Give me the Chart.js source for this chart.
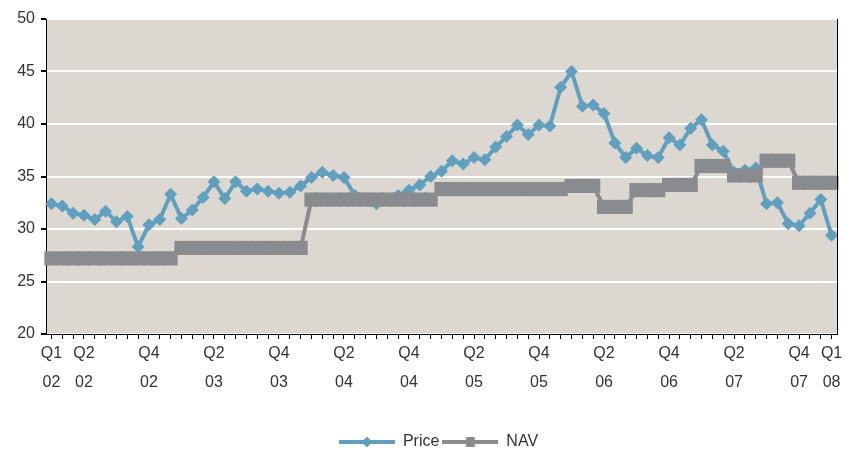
<!DOCTYPE html>
<html>
<head>
<meta charset="utf-8">
<script src="https://cdn.jsdelivr.net/npm/chart.js@4.4.1/dist/chart.umd.min.js"></script>
<style>
  body { margin: 0; background: #fff; }
</style>
</head>
<body>
<canvas id="chart" width="849" height="452"></canvas>
<script>
// monthly points, Jan 02 .. Jan 08
const tickText = ['Q1 02', 'Q2 02', 'Q4 02', 'Q2 03', 'Q4 03', 'Q2 04', 'Q4 04',
                  'Q2 05', 'Q4 05', 'Q2 06', 'Q4 06', 'Q2 07', 'Q4 07', 'Q1 08'];
const tickAt = [0, 3, 9, 15, 21, 27, 33, 39, 45, 51, 57, 63, 69, 72];

const price = [
  32.4, 32.2, 31.5, 31.3, 30.9, 31.7, 30.7, 31.2, 28.3, 30.4, 30.9, 33.3,
  31.0, 31.8, 33.0, 34.5, 32.9, 34.5, 33.6, 33.8, 33.6, 33.4, 33.5, 34.1,
  34.9, 35.4, 35.1, 34.9, 33.2, 32.9, 32.4, 32.8, 33.2, 33.7, 34.2, 35.0,
  35.5, 36.5, 36.2, 36.8, 36.6, 37.8, 38.8, 39.9, 39.0, 39.9, 39.8, 43.5,
  45.0, 41.7, 41.8, 41.0, 38.2, 36.8, 37.7, 37.0, 36.8, 38.7, 38.0, 39.6,
  40.4, 38.0, 37.4, 35.4, 35.6, 35.8, 32.4, 32.5, 30.5, 30.3, 31.5, 32.8,
  29.4
];

const nav = [
  27.2, 27.2, 27.2, 27.2, 27.2, 27.2, 27.2, 27.2, 27.2, 27.2, 27.2, 27.2,
  28.2, 28.2, 28.2, 28.2, 28.2, 28.2, 28.2, 28.2, 28.2, 28.2, 28.2, 28.2,
  32.8, 32.8, 32.8, 32.8, 32.8, 32.8, 32.8, 32.8, 32.8, 32.8, 32.8, 32.8,
  33.8, 33.8, 33.8, 33.8, 33.8, 33.8, 33.8, 33.8, 33.8, 33.8, 33.8, 33.8,
  34.1, 34.1, 34.1, 32.1, 32.1, 32.1, 33.7, 33.7, 33.7, 34.2, 34.2, 34.2,
  36.0, 36.0, 36.0, 35.1, 35.1, 35.1, 36.5, 36.5, 36.5, 34.4, 34.4, 34.4,
  34.4
];

const blue = '#60a0be';
const grey = '#8a8b8f';

let labels = price.map(() => '');
tickAt.forEach((idx, k) => { labels[idx] = tickText[k].split(' '); });

// legend icon: short line with the marker in the middle
function legendIcon(color, shape) {
  let c = document.createElement('canvas');
  c.width = 56; c.height = 16;
  let g = c.getContext('2d');
  g.strokeStyle = color;
  g.fillStyle = color;
  g.lineWidth = 4;
  g.beginPath(); g.moveTo(0, 8); g.lineTo(56, 8); g.stroke();
  if (shape == 'diamond') {
    g.beginPath();
    g.moveTo(28, 2.5); g.lineTo(33.5, 8); g.lineTo(28, 13.5); g.lineTo(22.5, 8);
    g.closePath(); g.fill();
  } else {
    g.fillRect(23.5, 3, 9, 10);
  }
  return c;
}
const icons = [legendIcon(blue, 'diamond'), legendIcon(grey, 'square')];

const plotBg = {
  id: 'plotBg',
  afterLayout(chart) {
    // legend sits lower and a little right of centre in the original
    chart.legend.left += 20;
    chart.legend.right += 20;
    chart.legend.top += 8;
    chart.legend.bottom += 8;
  },
  beforeDraw(chart) {
    const {ctx, chartArea: a} = chart;
    ctx.save();
    ctx.fillStyle = '#dcd7d1';
    ctx.fillRect(a.left, a.top, a.right - a.left, a.bottom - a.top);
    ctx.restore();
  },
  afterDraw(chart) {
    const {ctx, chartArea: a} = chart;
    ctx.save();
    ctx.strokeStyle = '#000';
    ctx.lineWidth = 1;
    ctx.beginPath();
    ctx.moveTo(a.right + 0.5, a.top);
    ctx.lineTo(a.right + 0.5, a.bottom);
    ctx.stroke();
    ctx.restore();
  }
};

const font = {family: '"Liberation Sans", Arial, sans-serif', size: 16};

new Chart(document.getElementById('chart').getContext('2d'), {
  type: 'line',
  data: {
    labels: labels,
    datasets: [
      {
        label: 'Price',
        data: price,
        borderColor: blue,
        backgroundColor: blue,
        borderWidth: 4,
        pointStyle: 'rectRot',
        pointRadius: 6.5,
        pointBorderWidth: 0,
        pointBackgroundColor: blue,
        tension: 0,
        order: 1
      },
      {
        label: 'NAV',
        data: nav,
        borderColor: grey,
        backgroundColor: grey,
        borderWidth: 4,
        pointStyle: 'rect',
        pointRadius: 10,
        pointBorderWidth: 0,
        pointBackgroundColor: grey,
        tension: 0,
        order: 0
      }
    ]
  },
  options: {
    responsive: false,
    animation: false,
    layout: {padding: {left: 0, right: 12, top: 19, bottom: 0}},
    plugins: {
      tooltip: {enabled: false},
      legend: {
        position: 'bottom',
        labels: {
          usePointStyle: true,
          pointStyleWidth: 56,
          padding: 3,
          color: '#333',
          font: font,
          sort: (a, b) => a.datasetIndex - b.datasetIndex,
          generateLabels(chart) {
            let items = Chart.defaults.plugins.legend.labels.generateLabels(chart);
            items.forEach(it => { it.pointStyle = icons[it.datasetIndex]; });
            return items;
          }
        }
      }
    },
    scales: {
      x: {
        offset: true,
        afterFit(scale) { scale.height = 89; },
        grid: {
          offset: false,
          drawOnChartArea: false,
          drawTicks: true,
          tickLength: 5,
          tickColor: '#000'
        },
        border: {display: true, color: '#000', width: 1},
        ticks: {
          autoSkip: false,
          maxRotation: 0,
          color: '#333',
          font: Object.assign({lineHeight: 1.8}, font),
          padding: 0
        }
      },
      y: {
        min: 20,
        max: 50,
        afterFit(scale) { scale.width = 46; },
        grid: {
          color: '#fff',
          lineWidth: 2,
          drawTicks: true,
          tickLength: 5,
          tickColor: '#000'
        },
        border: {display: true, color: '#000', width: 1},
        ticks: {
          stepSize: 5,
          color: '#333',
          font: font,
          padding: 6
        }
      }
    }
  },
  plugins: [plotBg]
});
</script>
</body>
</html>
